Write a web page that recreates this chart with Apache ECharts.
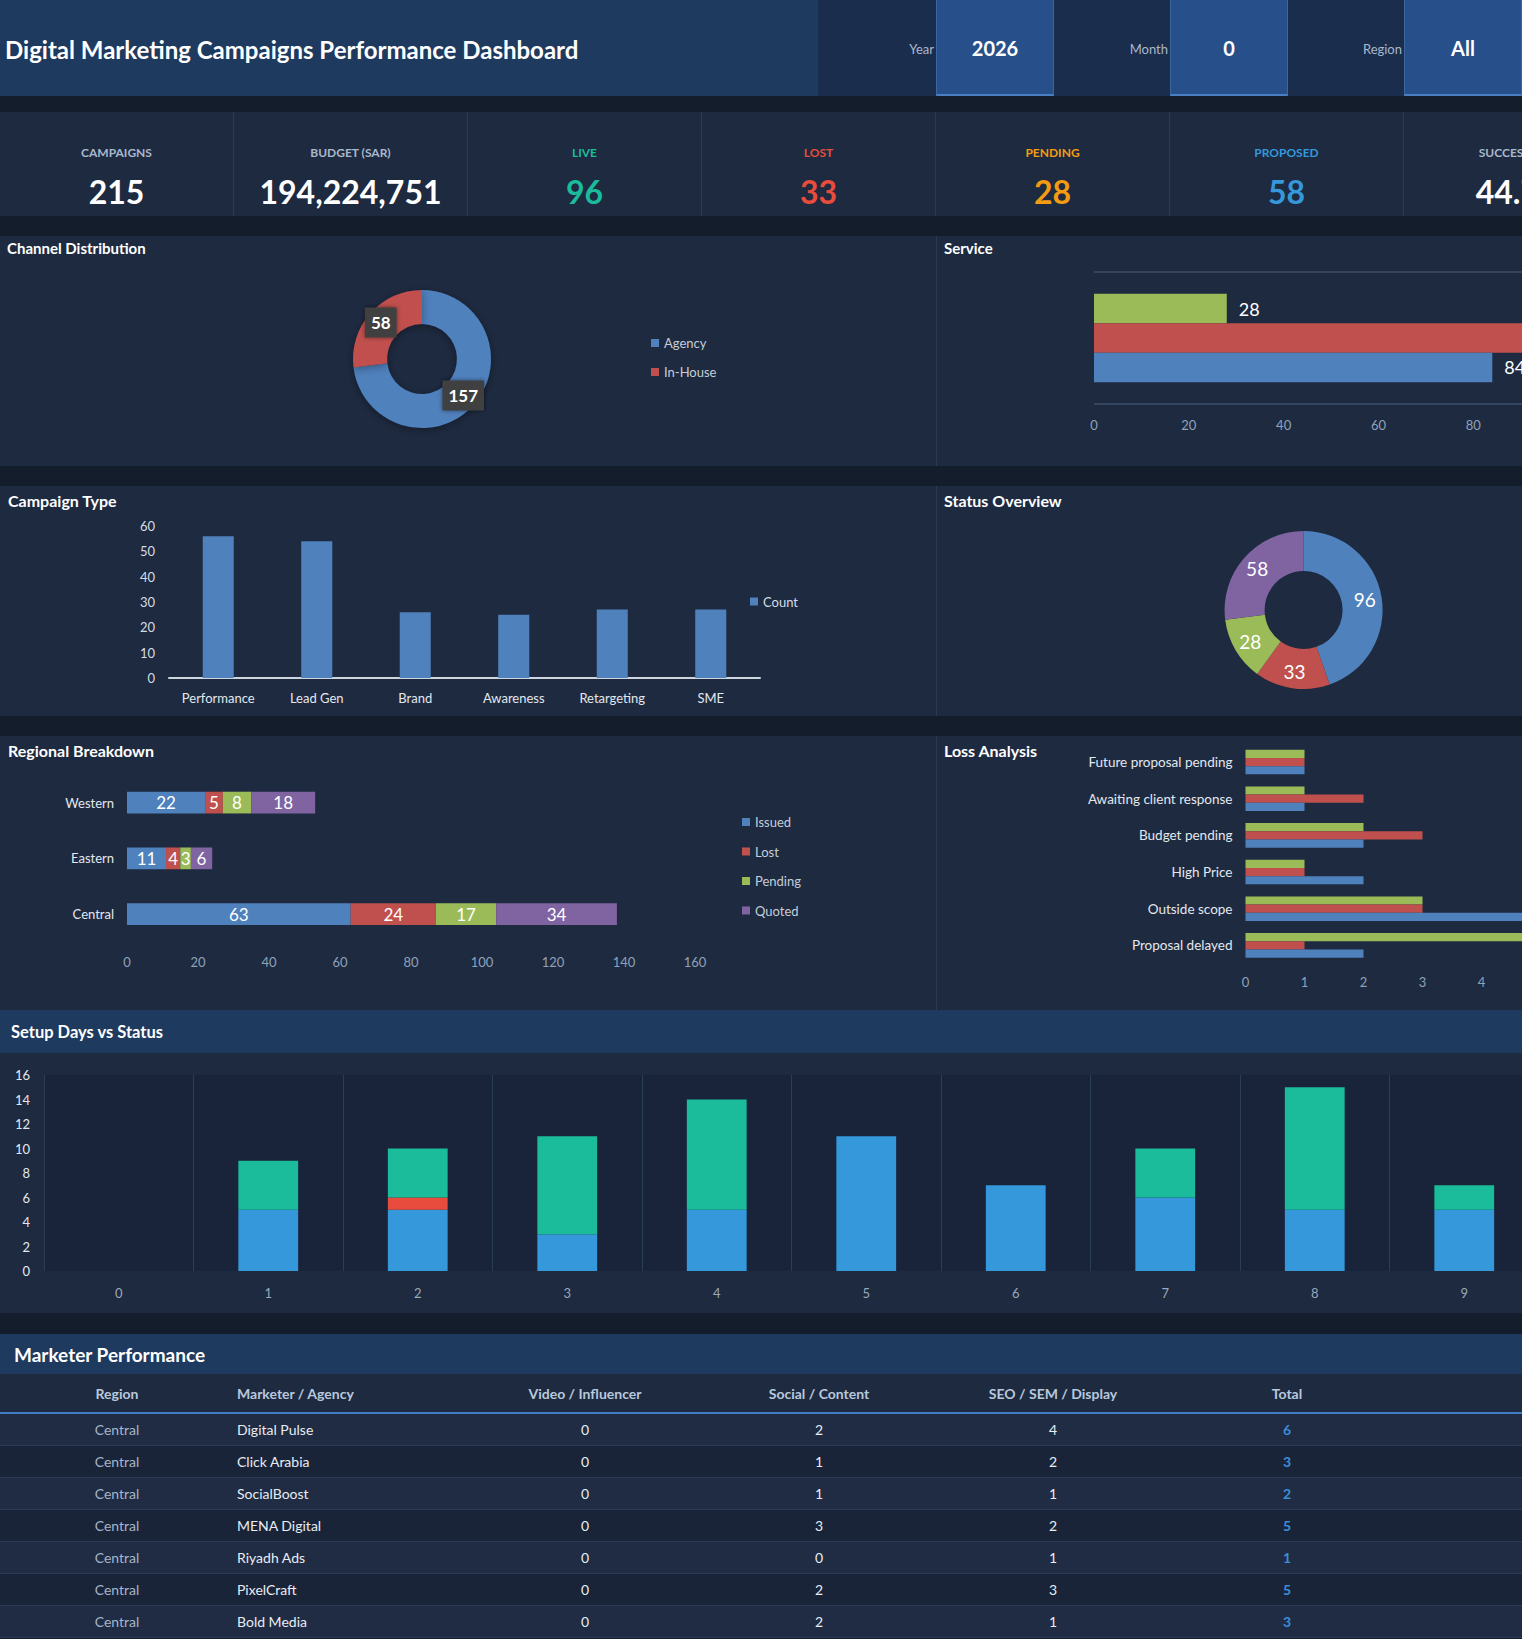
<!DOCTYPE html>
<html>
<head>
<meta charset="utf-8">
<script src="https://cdn.jsdelivr.net/npm/echarts@6/dist/echarts.min.js"></script>
<style>
html, body { margin: 0; padding: 0; background: #141d2b; overflow: hidden; width: 1522px; height: 1639px; font-family: Lato, 'Open Sans', sans-serif; }
#page { position: relative; width: 1700px; height: 1639px; }
.abs { position: absolute; }
.band { position: absolute; background: #1f3a5f; }
.panel { position: absolute; background: #1e2a40; overflow: hidden; }
.panel.right { border-left: 1px solid #2c3b53; }
.ptitle { position: absolute; color: #fff; font-weight: bold; font-size: 15px; white-space: nowrap; }
.chart { position: absolute; left: 0; top: 0; }
.sel-label { position: absolute; top: 0; height: 96px; line-height: 98px; width: 100px; text-align: right; color: #a9b8cc; font-size: 13px; }
.sel-box { position: absolute; top: 0; width: 116px; height: 94px; line-height: 97px; text-align: center; background: #27508a;
  border-left: 1px solid #3d67a3; border-right: 1px solid #3d67a3; border-bottom: 2px solid #4a7fc4; color: #fff; font-weight: bold; font-size: 20px; }
.kpi { position: absolute; top: 112px; width: 233px; height: 104px; background: #1e2a40; border-right: 1px solid #2c3b53; overflow: hidden; }
.kpi .lbl { position: absolute; left: 0; right: 0; top: 33px; text-align: center; font-size: 12px; font-weight: bold; }
.kpi .val { position: absolute; left: 0; right: 0; top: 59px; text-align: center; font-size: 32px; font-weight: bold; line-height: 42px; }
.row { position: absolute; left: 0; width: 1700px; height: 31px; border-bottom: 1px solid #2b3a52; font-size: 14px; }
.cell { position: absolute; top: 0; line-height: 31px; white-space: nowrap; }
</style>
</head>
<body>
<div id="page">
  <!-- header -->
  <div class="band" style="left:0;top:0;width:818px;height:96px;"></div>
  <div class="abs" style="left:818px;top:0;width:882px;height:96px;background:#1a2d4d;"></div>
  <div class="abs" style="left:5px;top:0;height:96px;line-height:99px;color:#fff;font-weight:bold;font-size:24px;white-space:nowrap;">Digital Marketing Campaigns Performance Dashboard</div>
  <div id="selectors"></div>

  <!-- kpis -->
  <div id="kpis"></div>

  <!-- row 1 -->
  <div class="panel" style="left:0;top:236px;width:936px;height:230px;">
    <div id="cChannel" class="chart" style="width:936px;height:230px;"></div>
    <div class="ptitle" style="left:7px;top:3px;">Channel Distribution</div>
  </div>
  <div class="panel right" style="left:936px;top:236px;width:764px;height:230px;">
    <div id="cService" class="chart" style="width:764px;height:230px;"></div>
    <div class="ptitle" style="left:7px;top:3px;">Service</div>
  </div>

  <!-- row 2 -->
  <div class="panel" style="left:0;top:486px;width:936px;height:230px;">
    <div id="cType" class="chart" style="width:936px;height:230px;"></div>
    <div class="ptitle" style="left:8px;top:5px;font-size:16px;">Campaign Type</div>
  </div>
  <div class="panel right" style="left:936px;top:486px;width:764px;height:230px;">
    <div id="cStatus" class="chart" style="width:764px;height:230px;"></div>
    <div class="ptitle" style="left:7px;top:5px;font-size:16px;">Status Overview</div>
  </div>

  <!-- row 3 -->
  <div class="panel" style="left:0;top:736px;width:936px;height:274px;">
    <div id="cRegion" class="chart" style="width:936px;height:274px;"></div>
    <div class="ptitle" style="left:8px;top:5px;font-size:16px;">Regional Breakdown</div>
  </div>
  <div class="panel right" style="left:936px;top:736px;width:764px;height:274px;">
    <div id="cLoss" class="chart" style="width:764px;height:274px;"></div>
    <div class="ptitle" style="left:7px;top:5px;font-size:16px;">Loss Analysis</div>
  </div>

  <!-- setup days -->
  <div class="band" style="left:0;top:1010px;width:1700px;height:43px;">
    <div class="ptitle" style="left:11px;top:12px;font-size:16.5px;">Setup Days vs Status</div>
  </div>
  <div class="panel" style="left:0;top:1053px;width:1700px;height:260px;">
    <div id="cSetup" class="chart" style="width:1700px;height:260px;"></div>
  </div>

  <!-- table -->
  <div class="band" style="left:0;top:1334px;width:1700px;height:40px;">
    <div class="ptitle" style="left:14px;top:9px;font-size:19px;">Marketer Performance</div>
  </div>
  <div id="table"></div>
</div>

<script>
// ---- data ----
const selectorLabels = ['Year', 'Month', 'Region'];
const selectorValues = ['2026', '0', 'All'];

const kpiLabels = ['CAMPAIGNS', 'BUDGET (SAR)', 'LIVE', 'LOST', 'PENDING', 'PROPOSED', 'SUCCESS RATE'];
const kpiValues = ['215', '194,224,751', '96', '33', '28', '58', '44.7%'];

const channelNames = ['Agency', 'In-House'];
const channelValues = [157, 58];

// drawn top to bottom: green, red, blue
const serviceNames = ['SEO / SEM / Display', 'Social / Content', 'Video / Influencer'];
const serviceValues = [28, 103, 84];

const campaignTypes = ['Performance', 'Lead Gen', 'Brand', 'Awareness', 'Retargeting', 'SME'];
const campaignCounts = [56, 54, 26, 25, 27, 27];

const statusNames = ['Live', 'Lost', 'Pending', 'Proposed'];
const statusValues = [96, 33, 28, 58];

const regions = ['Central', 'Eastern', 'Western'];
const regionIssued = [63, 11, 22];
const regionLost = [24, 4, 5];
const regionPending = [17, 3, 8];
const regionQuoted = [34, 6, 18];

const lossReasons = ['Proposal delayed', 'Outside scope', 'High Price', 'Budget pending', 'Awaiting client response', 'Future proposal pending'];
const lossCentral = [2, 5, 2, 2, 1, 1];
const lossEastern = [1, 3, 1, 3, 2, 1];
const lossWestern = [5, 3, 1, 2, 1, 1];

const setupDays = ['0', '1', '2', '3', '4', '5', '6', '7', '8', '9'];
const setupProposed = [0, 5, 5, 3, 5, 11, 7, 6, 5, 5];
const setupLost = [0, 0, 1, 0, 0, 0, 0, 0, 0, 0];
const setupLive = [0, 4, 4, 8, 9, 0, 0, 4, 10, 2];

const tableHeaders = ['Region', 'Marketer / Agency', 'Video / Influencer', 'Social / Content', 'SEO / SEM / Display', 'Total'];
const tableRows = [
  ['Central', 'Digital Pulse', 0, 2, 4, 6],
  ['Central', 'Click Arabia', 0, 1, 2, 3],
  ['Central', 'SocialBoost', 0, 1, 1, 2],
  ['Central', 'MENA Digital', 0, 3, 2, 5],
  ['Central', 'Riyadh Ads', 0, 0, 1, 1],
  ['Central', 'PixelCraft', 0, 2, 3, 5],
  ['Central', 'Bold Media', 0, 2, 1, 3]
];

// ---- styles ----
const kpiLabelColors = ['#a9b8cc', '#a9b8cc', '#1abc9c', '#e74c3c', '#f39c12', '#3498db', '#a9b8cc'];
const kpiValueColors = ['#ffffff', '#ffffff', '#1abc9c', '#e74c3c', '#f39c12', '#3498db', '#ffffff'];
const xlBlue = '#4f81bd', xlRed = '#c0504d', xlGreen = '#9bbb59', xlPurple = '#8064a2';
const axisGray = '#8fa2ba';
const labelLight = '#e3e8ef';

// ---- header selectors ----
const selBoxLeft = [936, 1170, 1404];
let selHtml = '';
selectorLabels.forEach((l, i) => {
  selHtml += `<div class="sel-label" style="left:${selBoxLeft[i] - 102}px">${l}</div>`;
  selHtml += `<div class="sel-box" style="left:${selBoxLeft[i]}px">${selectorValues[i]}</div>`;
});
document.getElementById('selectors').innerHTML = selHtml;

// ---- kpi cards ----
let kpiHtml = '';
kpiLabels.forEach((l, i) => {
  kpiHtml += `<div class="kpi" style="left:${i * 234}px"><div class="lbl" style="color:${kpiLabelColors[i]}">${l}</div>` +
    `<div class="val" style="color:${kpiValueColors[i]}">${kpiValues[i]}</div></div>`;
});
document.getElementById('kpis').innerHTML = kpiHtml;

// ---- table ----
const colCenters = [117, 237, 585, 819, 1053, 1287];
function cellHtml(text, i, style) {
  if (i === 1) return `<div class="cell" style="left:${colCenters[i]}px;${style}">${text}</div>`;
  return `<div class="cell" style="left:${colCenters[i] - 100}px;width:200px;text-align:center;${style}">${text}</div>`;
}
let tHtml = `<div class="row" style="top:1374px;height:38px;background:#1e2a40;border-bottom:2px solid #3f7ec7;">`;
tableHeaders.forEach((h, i) => { tHtml += cellHtml(h, i, 'line-height:40px;font-weight:bold;color:#b8c8dc;'); });
tHtml += '</div>';
tableRows.forEach((r, k) => {
  const bg = k % 2 === 0 ? '#1f2c43' : '#1a2439';
  tHtml += `<div class="row" style="top:${1414 + k * 32}px;background:${bg};">`;
  r.forEach((v, i) => {
    let st = 'color:#e8edf3;';
    if (i === 0) st = 'color:#a6b4c8;';
    if (i === 5) st = 'color:#3b8ed8;font-weight:bold;';
    tHtml += cellHtml(v, i, st);
  });
  tHtml += '</div>';
});
document.getElementById('table').innerHTML = tHtml;

// ---- charts ----
function mk(id, opt) {
  const c = echarts.init(document.getElementById(id), null, { renderer: 'svg' });
  c.setOption(Object.assign({ animation: false, textStyle: { fontFamily: 'Lato' } }, opt));
  return c;
}

// Channel Distribution
mk('cChannel', {
  legend: {
    orient: 'vertical', left: 646, top: 95, icon: 'rect', itemWidth: 8, itemHeight: 8, itemGap: 15,
    textStyle: { color: '#c5cdd8', fontSize: 13, lineHeight: 14 }
  },
  series: [{
    type: 'pie', center: [422, 123], radius: [35, 69], startAngle: 90,
    itemStyle: { shadowBlur: 8, shadowColor: 'rgba(0,0,0,0.35)', shadowOffsetY: 2 },
    label: {
      position: 'inside', formatter: '{c}', color: '#fff', fontWeight: 'bold', fontSize: 17,
      backgroundColor: '#3f3f3f', padding: [7, 6, 6, 6], shadowBlur: 4, shadowColor: 'rgba(0,0,0,0.5)'
    },
    labelLine: { show: false },
    data: channelNames.map((n, i) => ({ name: n, value: channelValues[i], itemStyle: { color: [xlBlue, xlRed][i] } }))
  }]
});

// Service
mk('cService', {
  grid: { left: 157, top: 36, width: 569, height: 132 },
  xAxis: {
    type: 'value', min: 0, max: 120, interval: 20,
    axisLine: { show: false }, axisTick: { show: false }, splitLine: { show: false },
    axisLabel: { color: axisGray, fontSize: 13, margin: 14 }
  },
  yAxis: {
    type: 'category', data: ['Service'],
    axisLine: { show: false }, axisTick: { show: false }, axisLabel: { show: false },
    splitLine: { show: true, lineStyle: { color: '#34465f', width: 2 } }
  },
  series: serviceNames.map((n, i) => ({
    type: 'bar', name: n, data: [serviceValues[i]], barGap: 0, barCategoryGap: '33%',
    itemStyle: { color: [xlGreen, xlRed, xlBlue][i] },
    label: { show: true, position: 'right', distance: 12, color: '#fff', fontSize: 18 }
  }))
});

// Campaign Type
mk('cType', {
  legend: { left: 745, top: 104, icon: 'rect', itemWidth: 8, itemHeight: 8, textStyle: { color: '#d5dce6', fontSize: 13 } },
  grid: { left: 169, top: 40, width: 591, height: 152 },
  xAxis: {
    type: 'category', data: campaignTypes,
    axisLine: { lineStyle: { color: '#cdd5df', width: 2 } }, axisTick: { show: false },
    axisLabel: { color: labelLight, fontSize: 13, margin: 13 }
  },
  yAxis: {
    type: 'value', min: 0, max: 60, interval: 10,
    axisLine: { show: false }, splitLine: { show: false },
    axisLabel: { color: '#d5dce6', fontSize: 13, margin: 14 }
  },
  series: [{ type: 'bar', name: 'Count', data: campaignCounts, barWidth: '31.5%', itemStyle: { color: xlBlue } }]
});

// Status Overview
mk('cStatus', {
  series: [{
    type: 'pie', center: [366.6, 124], radius: [39, 79], startAngle: 90,
    label: { position: 'inside', formatter: '{c}', color: '#fff', fontSize: 19 },
    labelLine: { show: false },
    data: statusNames.map((n, i) => ({ name: n, value: statusValues[i], itemStyle: { color: [xlBlue, xlRed, xlGreen, xlPurple][i] } }))
  }]
});

// Regional Breakdown
const regionSeries = [['Issued', regionIssued, xlBlue], ['Lost', regionLost, xlRed], ['Pending', regionPending, xlGreen], ['Quoted', regionQuoted, xlPurple]];
mk('cRegion', {
  legend: {
    orient: 'vertical', left: 737, top: 74, icon: 'rect', itemWidth: 8, itemHeight: 8, itemGap: 15.5,
    textStyle: { color: '#c5cdd8', fontSize: 13, lineHeight: 14 }
  },
  grid: { left: 127, top: 38.7, width: 568, height: 167.3 },
  xAxis: {
    type: 'value', min: 0, max: 160, interval: 20,
    axisLine: { show: false }, axisTick: { show: false }, splitLine: { show: false },
    axisLabel: { color: axisGray, fontSize: 13, margin: 13 }
  },
  yAxis: {
    type: 'category', data: regions,
    axisLine: { show: false }, axisTick: { show: false },
    axisLabel: { color: labelLight, fontSize: 13, margin: 13 }
  },
  series: regionSeries.map(s => ({
    type: 'bar', name: s[0], data: s[1], stack: 'total', barWidth: '39%',
    itemStyle: { color: s[2] },
    label: { show: true, position: 'inside', color: '#fff', fontSize: 17 }
  }))
});

// Loss Analysis (series listed top bar first)
const lossSeries = [['Western', lossWestern, xlGreen], ['Eastern', lossEastern, xlRed], ['Central', lossCentral, xlBlue]];
mk('cLoss', {
  grid: { left: 308.5, top: 7.7, width: 295, height: 220 },
  xAxis: {
    type: 'value', min: 0, max: 5, interval: 1,
    axisLine: { show: false }, axisTick: { show: false }, splitLine: { show: false },
    axisLabel: { color: axisGray, fontSize: 13, margin: 12 }
  },
  yAxis: {
    type: 'category', data: lossReasons,
    axisLine: { show: false }, axisTick: { show: false },
    axisLabel: { color: labelLight, fontSize: 13.5, margin: 13 }
  },
  series: lossSeries.map(s => ({
    type: 'bar', name: s[0], data: s[1], barGap: 0, barCategoryGap: '33%', itemStyle: { color: s[2] }
  }))
});

// Setup Days vs Status
const setupSeries = [['Proposed', setupProposed, '#3498db'], ['Lost', setupLost, '#e74c3c'], ['Live', setupLive, '#1abc9c']];
mk('cSetup', {
  grid: { left: 44, top: 22, width: 1495, height: 196, show: true, backgroundColor: '#19233a', borderWidth: 0 },
  xAxis: {
    type: 'category', data: setupDays,
    axisLine: { show: false }, axisTick: { show: false },
    splitLine: { show: true, lineStyle: { color: '#2c3d58', width: 1 } },
    axisLabel: { color: '#9aa8b8', fontSize: 13, margin: 15 }
  },
  yAxis: {
    type: 'value', min: 0, max: 16, interval: 2,
    axisLine: { show: false }, splitLine: { show: false },
    axisLabel: { color: labelLight, fontSize: 13, margin: 14 }
  },
  series: setupSeries.map(s => ({
    type: 'bar', name: s[0], data: s[1], stack: 'status', barWidth: '40%', itemStyle: { color: s[2] }
  }))
});
</script>
</body>
</html>
